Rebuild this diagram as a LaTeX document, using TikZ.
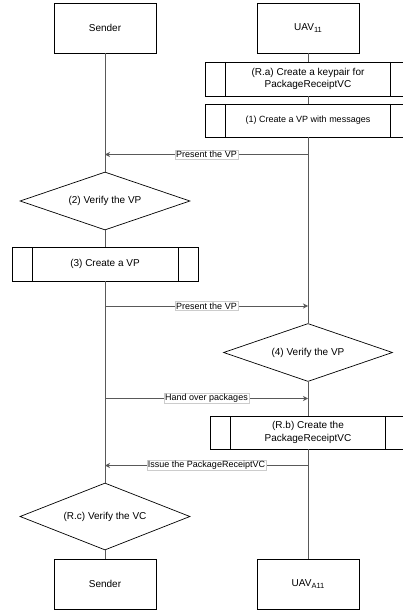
\documentclass[tikz,border=0pt]{standalone}
\usepackage{fontspec}
\setmainfont{Liberation Sans}
\usetikzlibrary{shapes.geometric,arrows.meta}
\newcommand{\lowsub}[1]{\raisebox{-2.5pt}{\fontsize{7.5}{8}\selectfont #1}}
\tikzset{
  actor/.style={draw, minimum width=102pt, minimum height=50pt, inner sep=0pt},
  proc/.style={draw, minimum height=34pt, inner sep=0pt, align=center,
    path picture={
      \draw ([xshift=20pt]path picture bounding box.north west) -- ([xshift=20pt]path picture bounding box.south west);
      \draw ([xshift=-20pt]path picture bounding box.north east) -- ([xshift=-20pt]path picture bounding box.south east);
    }},
  check/.style={draw, diamond, aspect=3, inner sep=0pt, minimum width=170pt, minimum height=58pt},
  life/.style={draw=black!65},
  msg/.style={draw=black!65, ->},
  lbl/.style={fill=white, draw=black!20, line width=0.4pt, inner sep=1pt, font=\fontsize{9}{11}\selectfont}
}
\begin{document}
\begin{tikzpicture}[x=1pt, y=-1pt, line width=0.7pt,
    >={Stealth[length=5pt, width=5pt, inset=1.5pt]}, font=\fontsize{10}{12.5}\selectfont]
  \useasboundingbox (0,0) rectangle (403,612);
  \clip (0,0) rectangle (403,612);
  % actors
  \node[actor] (s1) at (105,28) {Sender};
  \node[actor] (u1) at (308,28) {UAV\lowsub{11}};
  \node[actor] (s2) at (105,584) {Sender};
  \node[actor] (u2) at (308,584) {UAV\lowsub{A11}};
  % steps of the UAV
  \node[proc, minimum width=205pt] (pRa) at (308,79) {(R.a) Create a keypair for\\PackageReceiptVC};
  \node[proc, minimum width=205pt, minimum height=33pt, font=\fontsize{9}{11}\selectfont] (p1) at (308,120.5) {(1) Create a VP with messages};
  \node[check, minimum width=169pt] (d4) at (308,352.5) {(4) Verify the VP};
  \node[proc, minimum width=195pt, minimum height=33pt] (pRb) at (308,432.5) {(R.b) Create the\\PackageReceiptVC};
  % steps of the sender
  \node[check] (d2) at (105,201) {(2) Verify the VP};
  \node[proc, minimum width=186pt] (p3) at (105,264) {(3) Create a VP};
  \node[check, minimum height=67pt] (dRc) at (105,516.5) {(R.c) Verify the VC};
  % lifelines
  \draw[life] (s1) -- (d2) (d2) -- (p3) (p3) -- (dRc) (dRc) -- (s2);
  \draw[life] (u1) -- (pRa) (pRa) -- (p1) (p1) -- (d4) (d4) -- (pRb) (pRb) -- (u2);
  % messages
  \coordinate (m1s) at (105,154.5); \coordinate (m1u) at (308,154.5);
  \coordinate (m2s) at (105,306);   \coordinate (m2u) at (308,306);
  \coordinate (m3s) at (105,398.5); \coordinate (m3u) at (308,398.5);
  \coordinate (m4s) at (105,465.5); \coordinate (m4u) at (308,465.5);
  \draw[msg] (m1u) -- node[lbl] {Present the VP} (m1s);
  \draw[msg] (m2s) -- node[lbl] {Present the VP} (m2u);
  \draw[msg] (m3s) -- node[lbl] {Hand over packages} (m3u);
  \draw[msg] (m4u) -- node[lbl] {Issue the PackageReceiptVC} (m4s);
\end{tikzpicture}
\end{document}
